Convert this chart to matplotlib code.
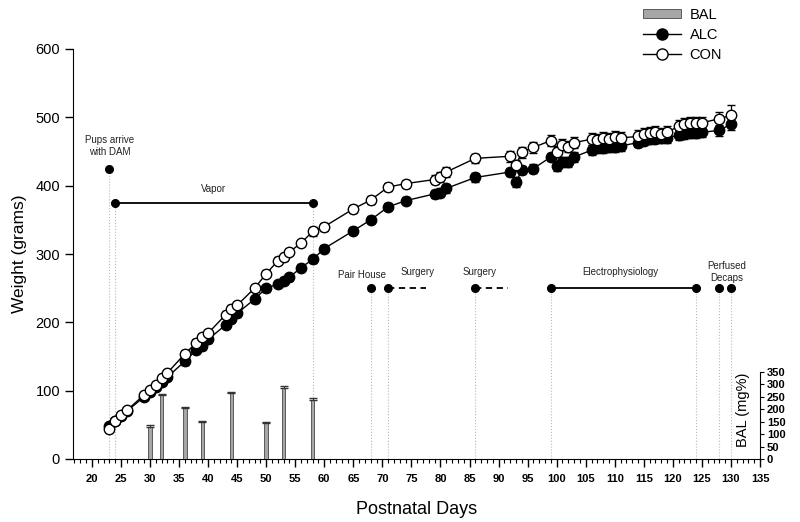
import matplotlib
matplotlib.use("Agg")
import matplotlib.pyplot as plt
import numpy as np
from matplotlib.lines import Line2D
from matplotlib.patches import Patch

plt.rcParams['font.family'] = ['Liberation Sans', 'DejaVu Sans']

# ---- data ----
days = [23, 24, 25, 26, 29, 30, 31, 32, 33, 36, 38, 39, 40, 43, 44, 45, 48, 50,
        52, 53, 54, 56, 58, 60, 65, 68, 71, 74, 79, 80, 81, 86, 92, 93, 94, 96,
        99, 100, 101, 102, 103, 106, 107, 108, 109, 110, 111, 114, 115, 116,
        117, 118, 119, 121, 122, 123, 124, 125, 128, 130]
alc = [48, 56, 63, 70, 91, 98, 106, 113, 120, 143, 160, 165, 175, 196, 205, 213,
       234, 250, 256, 261, 266, 280, 292, 308, 334, 350, 369, 378, 388, 390, 396,
       412, 420, 405, 423, 425, 442, 429, 435, 435, 442, 452, 455, 455, 456, 457,
       458, 463, 466, 468, 469, 470, 470, 474, 476, 477, 477, 478, 481, 490]
con = [44, 56, 64, 71, 94, 101, 109, 118, 126, 154, 170, 178, 184, 211, 220, 225,
       250, 271, 290, 295, 303, 316, 333, 340, 366, 379, 398, 403, 409, 413, 420,
       440, 443, 430, 449, 456, 466, 450, 460, 457, 463, 468, 467, 470, 468, 471,
       470, 472, 476, 477, 478, 476, 478, 487, 490, 491, 492, 492, 498, 503]
alc_err = [4, 4, 4, 4, 4, 4, 4, 4, 4, 5, 5, 5, 5, 5, 5, 5, 5, 5, 5, 5, 5, 5, 5, 5,
           5, 5, 5, 5, 6, 6, 6, 6, 6, 7, 6, 6, 6, 7, 7, 7, 7, 7, 7, 7, 7, 7, 7, 7,
           7, 7, 7, 7, 7, 7, 7, 7, 7, 7, 8, 9]
con_err = [4, 4, 4, 4, 4, 4, 4, 4, 4, 5, 5, 5, 5, 5, 5, 5, 5, 5, 5, 5, 5, 5, 6, 6,
           6, 6, 6, 6, 7, 7, 7, 7, 8, 8, 8, 8, 8, 8, 8, 8, 8, 9, 9, 9, 9, 9, 9, 9,
           9, 9, 9, 9, 9, 9, 9, 9, 9, 9, 10, 15]

bal_days = [30, 32, 36, 39, 44, 50, 53, 58]
bal = [130, 257, 204, 150, 264, 144, 284, 237]
bal_err = [6, 5, 4, 4, 6, 4, 8, 7]

# timeline events
point_events_x = [23, 68, 128, 130]
point_events_y = [425, 250, 250, 250]
span_solid = [(24, 58, 375), (99, 124, 250)]
span_dashed = [(71, 77.5, 250), (86, 91.7, 250)]
event_labels = [("Pups arrive\nwith DAM", 23, 458), ("Vapor", 41, 395),
                ("Pair House", 66.5, 270), ("Surgery", 76, 273),
                ("Surgery", 86.8, 273), ("Electrophysiology", 111, 273),
                ("Perfused\nDecaps", 129.3, 274)]
vline_days = [23, 24, 58, 68, 71, 86, 99, 124, 128, 130]
vline_tops = [425, 375, 375, 250, 250, 250, 250, 250, 250, 250]

x_major = list(range(20, 136, 5))
y_ticks = [0, 100, 200, 300, 400, 500, 600]
bal_ticks = [0, 50, 100, 150, 200, 250, 300, 350]

# ---- figure ----
fig = plt.figure(figsize=(8, 5.22), dpi=100)
ax = fig.add_axes([73.3 / 800, 63 / 522, (760 - 73.3) / 800, (459 - 49) / 522])

ax.set_xlim(16.8, 135)
ax.set_ylim(0, 600)

# vertical dotted guide lines
for d, t in zip(vline_days, vline_tops):
    ax.plot([d, d], [0, t], color='#b8b8b8', lw=0.8, ls=':', zorder=1)

# series
ax.errorbar(days, alc, yerr=alc_err, fmt='-o', color='black', mfc='black',
            mec='black', ms=7.5, lw=1.0, capsize=3, elinewidth=0.9, zorder=3)
ax.errorbar(days, con, yerr=con_err, fmt='-o', color='black', mfc='white',
            mec='black', ms=7.5, mew=1.0, lw=1.0, capsize=3, elinewidth=0.9, zorder=4)

# events
ax.plot(point_events_x, point_events_y, 'o', color='black', ms=5.5, zorder=5, ls='none')
for x0, x1, y in span_solid:
    ax.plot([x0, x1], [y, y], '-', color='black', lw=1.3, zorder=5)
    ax.plot([x0, x1], [y, y], 'o', color='black', ms=5.5, zorder=5)
for x0, x1, y in span_dashed:
    ax.plot([x0, x1], [y, y], '--', color='black', lw=1.3, dashes=(3.5, 2.5), zorder=5)
    ax.plot([x0], [y], 'o', color='black', ms=5.5, zorder=5)
for txt, x, y in event_labels:
    ax.text(x, y, txt, ha='center', va='center', fontsize=7, color='#222222',
            linespacing=1.2, zorder=6)

# axes styling
for s in ['top', 'right']:
    ax.spines[s].set_visible(False)
ax.set_xticks(x_major)
ax.set_xticks(range(17, 136), minor=True)
ax.set_yticks(y_ticks)
ax.tick_params(axis='x', which='major', length=6, width=1, direction='out',
               labelsize=8, pad=5)
ax.tick_params(axis='x', which='minor', length=3, width=0.8, direction='out')
ax.tick_params(axis='y', which='major', length=6, width=1, direction='out',
               labelsize=10.5)
for lbl in ax.get_xticklabels():
    lbl.set_fontweight('bold')
ax.set_xlabel('Postnatal Days', fontsize=13, labelpad=12)
ax.set_ylabel('Weight (grams)', fontsize=12.5, labelpad=6)

# BAL twin axis
ax2 = ax.twinx()
ax2.set_ylim(0, 350 * 600 / 127.3)
ax2.bar(bal_days, bal, width=0.6, color='#a6a6a6', edgecolor='#5a5a5a', lw=0.7,
        zorder=2)
ax2.errorbar(bal_days, bal, yerr=[np.zeros(len(bal)), bal_err], fmt='none',
             ecolor='#333333', capsize=3, elinewidth=0.8, zorder=3)
for s in ['top', 'left', 'bottom']:
    ax2.spines[s].set_visible(False)
ax2.spines['right'].set_bounds(0, 350)
ax2.set_yticks(bal_ticks)
ax2.tick_params(axis='y', length=3, width=0.8, labelsize=8, pad=2)
for lbl in ax2.get_yticklabels():
    lbl.set_fontweight('bold')
ax2.text(132.0, 197, 'BAL (mg%)', rotation=90, ha='center', va='center',
         fontsize=10.5)

# legend
handles = [Patch(facecolor='#a6a6a6', edgecolor='#5a5a5a', lw=0.7),
           Line2D([], [], color='black', marker='o', mfc='black', ms=8, lw=1),
           Line2D([], [], color='black', marker='o', mfc='white', mec='black', ms=8, lw=1)]
fig.legend(handles, ['BAL', 'ALC', 'CON'], loc='upper left',
           bbox_to_anchor=(643 / 800, 1 - 8 / 522), frameon=False,
           fontsize=10.5, handlelength=2.6, handletextpad=0.6,
           labelspacing=0.4, borderpad=0, borderaxespad=0, handleheight=0.6)

fig.savefig('out.png', dpi=100)
